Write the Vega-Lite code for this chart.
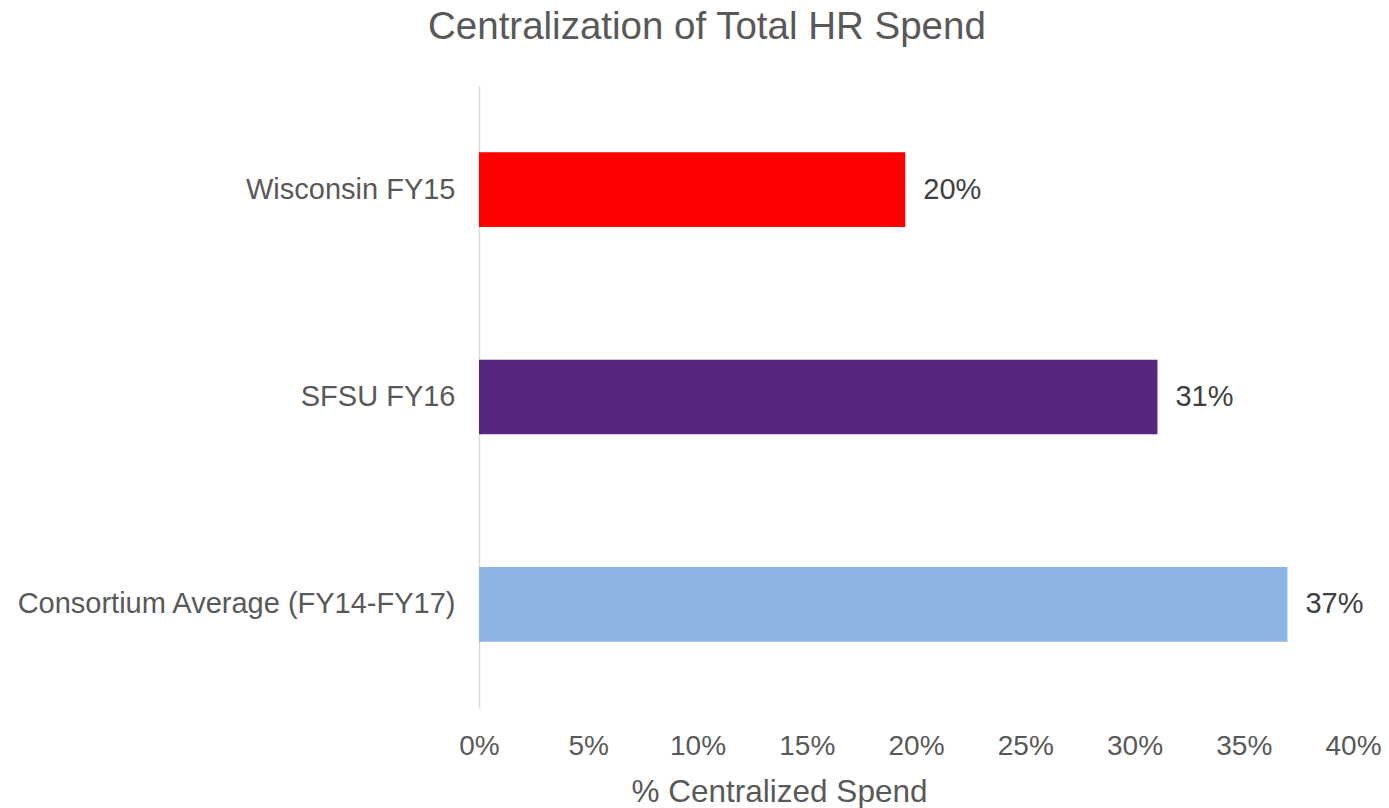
{
  "$schema": "https://vega.github.io/schema/vega-lite/v6.json",
  "autosize": "none",
  "width": 874,
  "height": 622,
  "padding": {"left": 479, "top": 86, "right": 36, "bottom": 100},
  "background": "white",
  "title": {
    "text": "Centralization of Total HR Spend",
    "anchor": "start",
    "frame": "group",
    "dx": -51,
    "offset": 39,
    "font": "Liberation Sans",
    "fontSize": 38.5,
    "fontWeight": "normal",
    "color": "#595959"
  },
  "data": {
    "values": [
      {"site": "Wisconsin FY15", "value": 0.1951},
      {"site": "SFSU FY16", "value": 0.3105},
      {"site": "Consortium Average (FY14-FY17)", "value": 0.370}
    ]
  },
  "config": {
    "view": {"stroke": null},
    "font": "Liberation Sans"
  },
  "encoding": {
    "y": {
      "field": "site",
      "type": "nominal",
      "sort": null,
      "title": null,
      "scale": {"paddingInner": 0.64, "paddingOuter": 0.32},
      "axis": {
        "ticks": false,
        "domainColor": "#d9d9d9",
        "domainWidth": 1.5,
        "labelFont": "Liberation Sans",
        "labelFontSize": 29,
        "labelColor": "#595959",
        "labelPadding": 24,
        "labelLimit": 600
      }
    },
    "x": {
      "field": "value",
      "type": "quantitative",
      "scale": {"domain": [0, 0.4], "nice": false},
      "title": "% Centralized Spend",
      "axis": {
        "format": ".0%",
        "values": [0, 0.05, 0.1, 0.15, 0.2, 0.25, 0.3, 0.35, 0.4],
        "grid": false,
        "domain": false,
        "ticks": false,
        "labelFlush": false,
        "labelFont": "Liberation Sans",
        "labelFontSize": 28,
        "labelColor": "#595959",
        "labelPadding": 24,
        "titleFont": "Liberation Sans",
        "titleFontSize": 31.5,
        "titleFontWeight": "normal",
        "titleColor": "#595959",
        "titlePadding": 16,
        "titleX": 300,
        "titleAnchor": null,
        "titleAlign": "center"
      }
    }
  },
  "layer": [
    {
      "mark": {"type": "bar"},
      "encoding": {
        "color": {
          "field": "site",
          "type": "nominal",
          "legend": null,
          "scale": {
            "domain": ["Wisconsin FY15", "SFSU FY16", "Consortium Average (FY14-FY17)"],
            "range": ["#ff0000", "#58267e", "#8eb4e3"]
          }
        }
      }
    },
    {
      "mark": {
        "type": "text",
        "align": "left",
        "dx": 18,
        "font": "Liberation Sans",
        "fontSize": 29,
        "color": "#404040"
      },
      "encoding": {
        "text": {"field": "value", "type": "quantitative", "format": ".0%"}
      }
    }
  ]
}
